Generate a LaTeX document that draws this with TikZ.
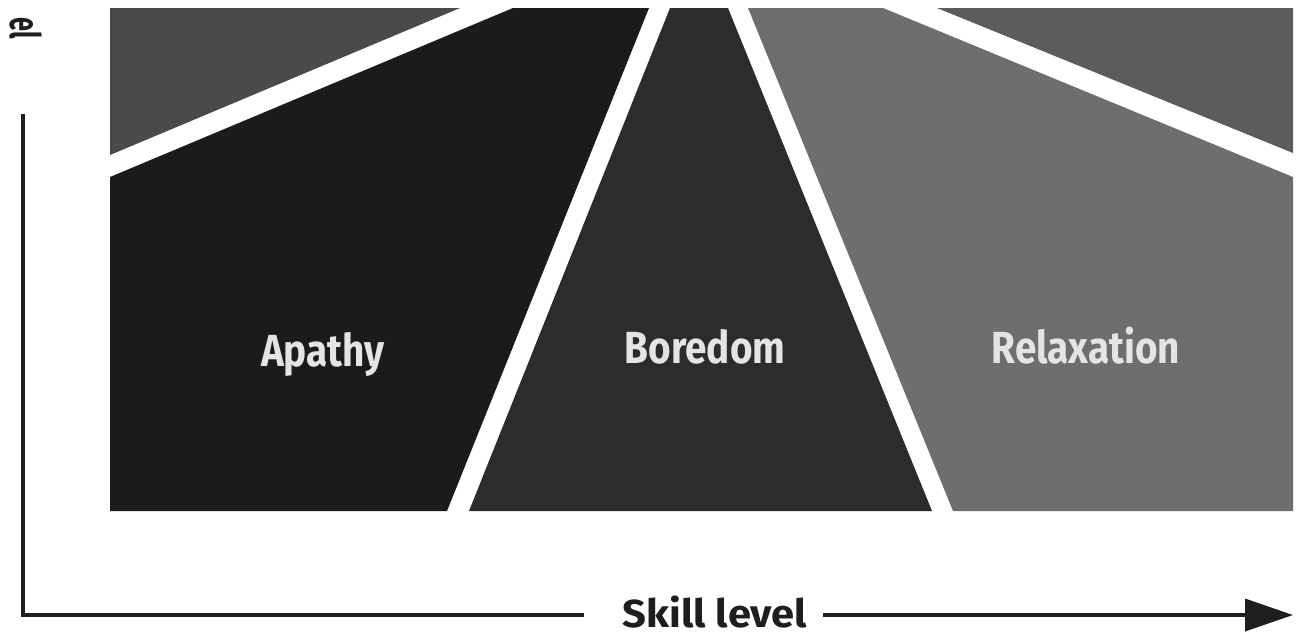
\documentclass[tikz,border=0pt]{standalone}
\usepackage{fontspec}
\newfontfamily\labfont{Fira Sans}[FakeStretch=0.86]
\newfontfamily\axfont{Fira Sans}[FakeStretch=1.07]
\usetikzlibrary{arrows.meta}
\definecolor{cUL}{HTML}{4A4A4A}
\definecolor{cAp}{HTML}{1B1B1B}
\definecolor{cBo}{HTML}{2C2C2C}
\definecolor{cRe}{HTML}{6E6E6E}
\definecolor{cUR}{HTML}{5C5C5C}
\definecolor{labelc}{HTML}{E4E4E4}
\definecolor{axisc}{HTML}{1E1E1E}
\begin{document}
\begin{tikzpicture}[x=1pt,y=-1pt,
  region/.style={fill=#1,draw=none},
  zonelabel/.style={font=\labfont\bfseries\fontsize{45}{45}\selectfont,text=labelc,inner sep=0pt,anchor=base},
  axislabel/.style={font=\axfont\bfseries\fontsize{39}{39}\selectfont,text=axisc,inner sep=0pt,anchor=base},
  axis/.style={line width=3.6pt,draw=axisc}]
\useasboundingbox (0,0) rectangle (1297,635);
% regions
\path[region=cUL] (110,8) -- (460,8) -- (110,155) -- cycle;
\path[region=cAp] (110,177) -- (513,8) -- (649,8) -- (447,511) -- (110,511) -- cycle;
\path[region=cBo] (670,8) -- (728,8) -- (932,511) -- (469,511) -- cycle;
\path[region=cRe] (748,8) -- (883,8) -- (1293,177) -- (1293,511) -- (953,511) -- cycle;
\path[region=cUR] (937,8) -- (1293,8) -- (1293,153) -- cycle;
% labels
\node[zonelabel] (apathy) at (323,366) {Apathy};
\node[zonelabel] (boredom) at (705,363) {Boredom};
\node[zonelabel] (relax) at (1086,363) {Relaxation};
% axes
\coordinate (ytop) at (23,114);
\coordinate (o) at (23,615);
\coordinate (xend) at (1293,615);
\node[axislabel] (skill) at (715,627) {Skill level};
\node[font=\labfont\bfseries\fontsize{42}{42}\selectfont,text=axisc,inner sep=0pt,rotate=-90] (ylab) at (26,28) {\scalebox{0.7}[1]{el}};
\draw[axis] (ytop) -- (o) -- ([xshift=-38pt]o -| skill.west);
\draw[axis,-{Triangle[length=48pt,width=32pt]}] ([xshift=15pt]o -| skill.east) -- (xend);
\end{tikzpicture}
\end{document}
